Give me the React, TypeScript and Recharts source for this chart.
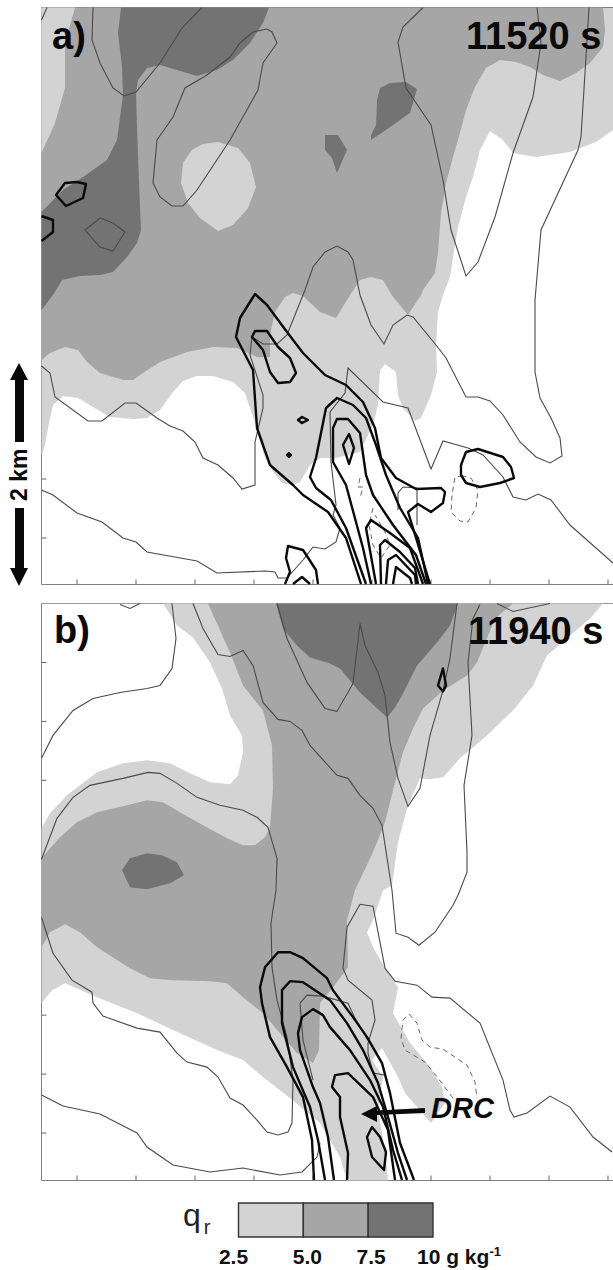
// Two-panel rainwater (qr) contour figure.
// Positions in the lists are plot units: x along the section, y down the section.
import React from 'react';
import { ScatterChart, Scatter, XAxis, YAxis, BarChart, Bar } from 'recharts';

type Pair = number[];

const xTicks = [77, 136, 195, 254, 313, 372, 431, 490, 549, 608];
const yTicksA = [67, 125.5, 184, 243, 302, 361, 420, 479, 538];
const yTicksB = [662, 721, 780, 839, 897, 957, 1015, 1074, 1133];

const LIGHT = '#d3d3d3';
const MID = '#a6a6a6';
const DARK = '#737373';

// ---- panel a, shading
const lightA: Pair[] = [[41.5,7.5],[613,7.5],[613,130],[596,142],[570,152],[536,157],[513,153],[503,140],[490,131],[480,150],[473,177],[466,197],[458,227],[453,257],[450,277],[443,295],[438,312],[436,345],[437,372],[431,395],[421,418],[415,421],[403,408],[398,395],[396,372],[385,364],[380,370],[378,405],[373,425],[360,452],[336,458],[320,458],[310,465],[300,482],[293,485],[282,483],[273,472],[263,452],[257,428],[250,408],[245,393],[233,382],[213,376],[197,376],[183,381],[173,392],[160,410],[147,418],[133,419],[110,417],[93,407],[78,398],[63,396],[53,405],[48,428],[45,445],[41.5,455]];
const midA: Pair[] = [[41.5,7.5],[603,7.5],[605,30],[603,47],[590,63],[576,73],[560,81],[543,75],[530,67],[516,62],[500,60],[486,68],[475,87],[466,110],[460,133],[453,157],[446,183],[441,213],[438,253],[435,273],[423,290],[421,295],[408,315],[400,305],[393,297],[383,280],[371,277],[360,280],[350,295],[336,318],[320,312],[303,296],[293,293],[285,297],[275,312],[270,335],[270,357],[257,357],[237,348],[213,347],[187,352],[160,362],[143,373],[133,380],[123,380],[100,373],[87,362],[78,350],[65,347],[50,353],[41.5,360]];
const lightCornerA: Pair[] = [[41.5,7.5],[75,7.5],[65,43],[65,88],[55,123],[41.5,153]];
const lightHoleA: Pair[] = [[218,142],[203,144],[192,150],[183,163],[181,183],[188,203],[200,218],[218,231],[233,225],[248,208],[256,187],[250,163],[238,148]];
const darkTopA: Pair[] = [[121,7.5],[118,33],[122,67],[123,95],[117,140],[107,160],[83,177],[63,190],[41.5,212],[41.5,310],[53,295],[62,280],[80,276],[100,275],[113,272],[127,257],[137,243],[141,230],[139,183],[137,127],[136,93],[138,80],[147,68],[160,65],[177,70],[197,76],[217,70],[233,60],[250,43],[263,23],[269,7.5]];
const darkBlobA: Pair[] = [[380,88],[390,83],[406,82],[417,89],[410,113],[400,120],[383,132],[371,140],[371,135],[376,125],[377,100]];
const darkSmallA: Pair[] = [[325,135],[338,135],[347,150],[337,173],[332,158],[325,150]];

// ---- panel a, thin contours
const thinA1: Pair[] = [[93,7.5],[92,40],[100,63],[113,88],[124,96],[136,92],[160,63],[182,28],[202,7.5]];
const thinA2: Pair[] = [[41.5,20],[47,7.5]];
const thinA3: Pair[] = [[423,7.5],[403,27],[398,42],[406,88],[431,125],[443,180],[451,230],[466,276],[478,262],[495,217],[513,153],[533,97],[541,43],[537,7.5]];
const thinA4: Pair[] = [[589,7.5],[586,57],[581,137],[578,150],[541,230],[535,300],[535,372],[540,398],[551,418],[560,438],[562,456],[550,463],[536,457],[520,442],[503,415],[490,401],[478,397],[466,397],[446,358],[436,345],[413,317],[407,315],[393,325],[384,344],[371,325],[360,295],[353,260],[348,252],[337,246],[325,252],[313,267],[305,290],[287,335],[277,344],[263,344],[252,337],[250,355],[263,395],[263,408],[255,442],[255,485],[242,489],[233,478],[218,465],[203,458],[195,442],[183,431],[170,426],[157,418],[136,403],[125,403],[102,421],[88,421],[55,397],[50,373],[41.5,366]];
const thinA5: Pair[] = [[41.5,490],[53,495],[77,513],[102,522],[123,538],[136,542],[147,552],[197,561],[217,573],[265,571],[275,572],[278,578],[287,578],[303,560],[313,547],[325,549],[336,542],[340,528],[333,515],[336,505],[331,462],[330,412],[345,393],[348,368],[383,402],[408,408],[431,469],[443,441],[468,448],[483,455],[503,477],[513,497],[526,500],[538,494],[551,500],[570,525],[613,563]];
const thinA6: Pair[] = [[398,510],[398,493],[403,487],[417,488],[417,525]];
const thinLoopA1: Pair[] = [[267,29],[253,32],[240,43],[230,57],[207,75],[185,88],[173,117],[157,140],[153,183],[160,197],[172,206],[183,206],[197,190],[230,140],[258,90],[263,63],[277,43],[272,32]];
const thinLoopA2: Pair[] = [[100,218],[85,230],[100,247],[113,251],[125,232],[113,223]];

// ---- panel a, thick contours
const thickA1: Pair[] = [[361,584],[346,538],[328,512],[303,495],[293,485],[270,465],[257,428],[253,370],[236,337],[240,318],[255,294],[267,305],[287,332],[303,353],[325,375],[346,385],[363,402],[375,428],[381,458],[396,478],[416,489],[441,488],[445,492],[443,503],[431,512],[418,504],[408,512],[413,528],[430,584]];
const thickA2: Pair[] = [[366,584],[346,528],[331,500],[316,488],[310,477],[316,458],[326,408],[337,398],[353,405],[366,418],[376,445],[386,475],[400,508],[418,538],[428,584]];
const thickA3: Pair[] = [[371,584],[363,548],[346,485],[333,462],[333,428],[337,419],[348,419],[360,433],[366,475],[373,495],[393,525],[416,555],[426,584]];
const thickA4: Pair[] = [[376,584],[366,528],[371,520],[390,533],[410,548],[423,584]];
const thickA5: Pair[] = [[381,584],[380,545],[385,540],[400,552],[415,568],[418,584]];
const thickA6: Pair[] = [[386,584],[388,560],[396,555],[415,575],[416,584]];
const thickA7: Pair[] = [[393,584],[396,567],[410,578],[412,584]];
const thickA8: Pair[] = [[318,584],[316,570],[303,550],[288,546],[286,558],[290,572],[285,584]];
const thickA9: Pair[] = [[293,584],[302,577],[310,584]];
const thickA10: Pair[] = [[41.5,216],[53,220],[53,232],[41.5,241]];
const thickLoopA1: Pair[] = [[65,183],[56,195],[66,206],[83,198],[86,184],[77,182]];
const thickLoopA2: Pair[] = [[252,337],[255,331],[267,331],[278,347],[290,358],[296,373],[290,382],[278,383],[270,372],[263,350]];
const thickLoopA3: Pair[] = [[349,434],[343,445],[349,464],[354,448]];
const thickLoopA4: Pair[] = [[298,420],[302,417],[308,420],[302,423]];
const thickLoopA5: Pair[] = [[287,455],[289,453],[291,455],[289,457]];
const thickLoopA6: Pair[] = [[466,452],[478,449],[503,457],[511,467],[514,478],[500,483],[480,487],[466,483],[461,475],[461,465]];

// ---- panel a, dashed contours
const dashLoopA: Pair[] = [[463,476],[455,477],[452,495],[451,512],[460,521],[468,522],[476,508],[478,490],[471,478]];
const dashA1: Pair[] = [[360,478],[358,487],[363,487],[360,498]];
const dashA2: Pair[] = [[373,508],[369,525],[373,545],[381,558],[390,545],[385,532],[375,515]];

// ---- panel b, shading
const lightB: Pair[] = [[163,603],[603,603],[590,618],[547,655],[533,685],[513,710],[487,735],[460,758],[443,777],[430,779],[420,778],[407,808],[398,842],[392,885],[383,890],[373,920],[367,932],[373,947],[385,968],[398,987],[393,1013],[410,1043],[430,1067],[442,1087],[445,1103],[431,1123],[405,1093],[398,1077],[382,1048],[372,1060],[383,1077],[378,1110],[385,1150],[388,1180.5],[347,1180.5],[340,1157],[320,1123],[290,1098],[263,1077],[243,1060],[217,1050],[180,1033],[137,1013],[97,997],[65,983],[52,990],[41.5,1003],[41.5,828],[50,813],[67,795],[97,772],[123,763],[147,760],[170,763],[190,773],[210,782],[230,784],[238,775],[243,752],[242,735],[230,715],[222,688],[210,662],[193,637],[177,625]];
const midB: Pair[] = [[208,603],[513,603],[495,618],[477,662],[467,675],[443,690],[423,708],[413,728],[403,752],[395,782],[385,822],[373,852],[355,890],[347,920],[348,967],[333,987],[320,1003],[319,1050],[313,1063],[297,1053],[280,1033],[263,1013],[243,997],[227,983],[210,981],[173,980],[150,978],[130,968],[97,947],[80,932],[65,924],[50,932],[41.5,947],[41.5,858],[60,837],[77,822],[97,812],[127,805],[147,800],[163,802],[180,812],[203,825],[227,838],[243,845],[255,845],[265,837],[270,827],[273,788],[272,745],[263,710],[243,685],[230,652]];
const darkTopB: Pair[] = [[276,603],[283,628],[297,645],[310,657],[330,663],[340,668],[360,692],[387,717],[395,707],[402,695],[417,665],[437,642],[450,625],[458,603]];
const darkBlobB: Pair[] = [[147,853],[130,858],[122,870],[130,887],[147,889],[170,883],[184,875],[177,862],[162,855]];

// ---- panel b, thin contours
const thinB1: Pair[] = [[172,603],[176,638],[172,668],[160,685],[147,688],[120,692],[93,698],[73,710],[53,735],[41.5,758]];
const thinB2: Pair[] = [[41.5,859],[57,818],[73,797],[90,785],[123,778],[148,772],[160,773],[177,783],[197,797],[220,805],[243,810],[257,817],[268,827],[277,858],[276,890],[271,923],[272,967],[277,1000],[287,1037],[293,1080],[292,1123],[288,1132],[278,1135],[267,1132],[257,1120],[243,1105],[230,1098],[218,1077],[207,1067],[187,1062],[177,1053],[160,1032],[137,1028],[103,1016],[93,1003],[92,992],[72,980],[53,953],[41.5,917]];
const thinB3: Pair[] = [[41.5,1095],[63,1106],[100,1114],[137,1133],[147,1147],[173,1165],[210,1172],[243,1168],[280,1175],[302,1172],[317,1157],[320,1143]];
const thinB4: Pair[] = [[193,603],[203,628],[218,654],[230,656],[243,650],[253,665],[263,702],[278,719],[290,721],[302,730],[310,745],[337,775],[348,778],[360,795],[373,808],[382,825],[392,890],[396,933],[408,937],[419,945],[435,932],[453,905],[458,895],[467,872],[467,852],[464,785],[472,735],[468,662],[473,618],[480,604]];
const thinB5: Pair[] = [[277,603],[287,638],[307,682],[325,708],[337,711],[353,683],[360,623],[365,645],[378,672],[385,695],[390,742],[398,778],[408,806],[420,788],[430,735],[443,690],[450,658],[457,603]];
const thinB6: Pair[] = [[497,603],[513,611],[550,603]];
const thinB7: Pair[] = [[120,604],[130,608],[140,603]];
const thinB8: Pair[] = [[385,1075],[373,1073],[368,1053],[368,1043],[375,1020],[372,1000],[348,980],[343,968],[347,927],[360,904],[373,906],[385,968],[395,981],[417,985],[432,997],[450,998],[480,1023],[503,1080],[510,1110],[514,1117],[527,1113],[550,1096],[570,1107],[593,1137],[612,1152]];
const thinB9: Pair[] = [[300,1003],[307,995],[323,996],[348,1003],[355,1018],[368,1040]];
const thinB10: Pair[] = [[300,1003],[303,1040],[313,1080]];

// ---- panel b, thick contours
const thickB1: Pair[] = [[314,1180],[312,1140],[303,1097],[287,1067],[270,1037],[262,1003],[260,987],[265,967],[278,952],[290,952],[303,958],[327,978],[333,990],[353,1017],[367,1037],[382,1063],[390,1093],[400,1143],[414,1180]];
const thickB2: Pair[] = [[325,1180],[318,1140],[310,1107],[293,1067],[282,1023],[282,990],[290,981],[303,982],[330,1000],[347,1023],[363,1050],[378,1083],[388,1117],[398,1153],[407,1180]];
const thickB3: Pair[] = [[334,1180],[328,1137],[320,1103],[313,1087],[300,1050],[298,1033],[302,1017],[313,1009],[323,1015],[330,1027],[350,1050],[370,1080],[383,1107],[393,1150],[402,1180]];
const thickB4: Pair[] = [[347,1180],[348,1153],[340,1117],[340,1097],[332,1087],[335,1075],[348,1073],[373,1097],[388,1130],[395,1180]];
const thickLoopB1: Pair[] = [[372,1127],[367,1137],[372,1157],[384,1170],[386,1152],[380,1137]];
const thickLoopB2: Pair[] = [[443,668],[438,685],[443,691],[446,685]];

// ---- panel b, dashed contour and DRC arrow
const dashB: Pair[] = [[453,1098],[438,1078],[425,1062],[405,1050],[401,1038],[403,1020],[409,1014],[417,1023],[422,1040],[430,1047],[443,1049],[467,1065],[475,1082],[477,1098]];
const drcArrow: Pair[] = [[425,1108],[377,1110.5],[377,1106],[361,1114],[377,1122],[377,1115],[425,1113]];

// ---- colour bar
const barBands = [{ name: 'qr', low: 2.5, middle: 2.5, high: 2.5 }];
const barTicks = [0, 2.5, 5, 7.5];
const barLabels = ['2.5', '5.0', '7.5', '10 g kg'];

const FONT = '"Liberation Sans", Arial, sans-serif';

const toPoints = (pairs: Pair[]) => pairs.map(([x, y]) => ({ x, y }));
const noShape = () => null;
const blankTick = () => <g />;

function fillArea(pairs: Pair[], color: string, key: string) {
  return (
    <Scatter
      key={key}
      data={toPoints(pairs)}
      shape={noShape}
      line={{ fill: color, stroke: 'none' }}
      lineJointType="linearClosed"
      isAnimationActive={false}
    />
  );
}

function contour(pairs: Pair[], kind: 'thin' | 'thick' | 'dash', closed: boolean, key: string) {
  const style =
    kind === 'thick'
      ? { stroke: '#0a0a0a', strokeWidth: 2.4, strokeLinejoin: 'round' as const }
      : kind === 'thin'
        ? { stroke: '#4a4a4a', strokeWidth: 1.1 }
        : { stroke: '#666666', strokeWidth: 1, strokeDasharray: '5 4' };
  return (
    <Scatter
      key={key}
      data={toPoints(pairs)}
      shape={noShape}
      line={style}
      lineJointType={closed ? 'linearClosed' : 'linear'}
      isAnimationActive={false}
    />
  );
}

// axes keep a 1px box because a zero-sized axis is not drawn
function Panel({ top, height, plotTop, plotBottom, yTicks, items, topColor }: any) {
  return (
    <div style={{ position: 'absolute', left: 0, top }}>
      <ScatterChart
        width={613}
        height={height}
        margin={{ left: 40.5, right: 0, top: plotTop - top - 1, bottom: height - (plotBottom - top) - 1 }}
      >
        {items}
        <XAxis
          xAxisId={0}
          type="number"
          dataKey="x"
          domain={[41.5, 613]}
          ticks={xTicks}
          tick={blankTick}
          tickSize={-5}
          height={1}
          interval={0}
          axisLine={{ stroke: '#808080' }}
          tickLine={{ stroke: '#666666' }}
        />
        <XAxis
          xAxisId="top"
          orientation="top"
          type="number"
          domain={[41.5, 613]}
          ticks={xTicks}
          tick={blankTick}
          tickSize={-5}
          height={1}
          interval={0}
          axisLine={{ stroke: topColor }}
          tickLine={{ stroke: '#666666' }}
        />
        <YAxis
          type="number"
          dataKey="y"
          reversed
          domain={[plotTop, plotBottom]}
          ticks={yTicks}
          tick={blankTick}
          tickSize={-5}
          width={1}
          interval={0}
          axisLine={{ stroke: '#808080' }}
          tickLine={{ stroke: '#666666' }}
        />
      </ScatterChart>
    </div>
  );
}

function ColourTick({ x, payload, index }: any) {
  const shift = [-5, 4, 3, -16][index] ?? 0;
  const last = index === barLabels.length - 1;
  return (
    <text
      x={x + shift}
      y={69}
      textAnchor={last ? 'start' : 'middle'}
      fontFamily={FONT}
      fontWeight={700}
      fontSize={21}
      fill="#111"
    >
      {barLabels[barTicks.indexOf(payload.value)]}
      {last && (
        <tspan fontSize={13} dy={-8}>
          -1
        </tspan>
      )}
    </text>
  );
}

function Label({ x, base, size, italic, children }: any) {
  return (
    <div
      style={{
        position: 'absolute',
        left: x,
        top: base - size,
        height: size,
        lineHeight: `${size}px`,
        fontFamily: FONT,
        fontSize: size,
        fontWeight: 700,
        fontStyle: italic ? 'italic' : 'normal',
        color: '#0a0a0a',
        whiteSpace: 'nowrap',
      }}
    >
      {children}
    </div>
  );
}

const panelAItems = [
  fillArea(lightA, LIGHT, 'la'),
  fillArea(midA, MID, 'ma'),
  fillArea(lightCornerA, LIGHT, 'lca'),
  fillArea(lightHoleA, LIGHT, 'lha'),
  fillArea(darkTopA, DARK, 'dta'),
  fillArea(darkBlobA, DARK, 'dba'),
  fillArea(darkSmallA, DARK, 'dsa'),
  ...[thinA1, thinA2, thinA3, thinA4, thinA5, thinA6].map((c, i) => contour(c, 'thin', false, `ta${i}`)),
  ...[thinLoopA1, thinLoopA2].map((c, i) => contour(c, 'thin', true, `tla${i}`)),
  contour(dashLoopA, 'dash', true, 'dla'),
  contour(dashA1, 'dash', false, 'da1'),
  contour(dashA2, 'dash', false, 'da2'),
  ...[thickA1, thickA2, thickA3, thickA4, thickA5, thickA6, thickA7, thickA8, thickA9, thickA10].map((c, i) =>
    contour(c, 'thick', false, `ka${i}`),
  ),
  ...[thickLoopA1, thickLoopA2, thickLoopA3, thickLoopA4, thickLoopA5, thickLoopA6].map((c, i) =>
    contour(c, 'thick', true, `kla${i}`),
  ),
];

const panelBItems = [
  fillArea(lightB, LIGHT, 'lb'),
  fillArea(midB, MID, 'mb'),
  fillArea(darkTopB, DARK, 'dtb'),
  fillArea(darkBlobB, DARK, 'dbb'),
  ...[thinB1, thinB2, thinB3, thinB4, thinB5, thinB6, thinB7, thinB8, thinB9, thinB10].map((c, i) =>
    contour(c, 'thin', false, `tb${i}`),
  ),
  contour(dashB, 'dash', false, 'db'),
  ...[thickB1, thickB2, thickB3, thickB4].map((c, i) => contour(c, 'thick', false, `kb${i}`)),
  ...[thickLoopB1, thickLoopB2].map((c, i) => contour(c, 'thick', true, `klb${i}`)),
  fillArea(drcArrow, '#0a0a0a', 'drc'),
];

export default function App() {
  return (
    <div style={{ position: 'absolute', left: 0, top: 0, width: 613, height: 1270, background: '#fff', overflow: 'hidden' }}>
      <Panel top={0} height={595} plotTop={7.5} plotBottom={584.5} yTicks={yTicksA} items={panelAItems} topColor="#222222" />
      <Panel top={595} height={595} plotTop={603.5} plotBottom={1180.5} yTicks={yTicksB} items={panelBItems} topColor="#999999" />

      <Label x={52} base={55} size={38}>a)</Label>
      <Label x={466} base={55} size={38}>11520 s</Label>
      <Label x={54} base={649} size={38}>b)</Label>
      <Label x={468} base={650} size={38}>11940 s</Label>
      <Label x={431} base={1123} size={29} italic>DRC</Label>

      {/* 2 km scale arrow */}
      <svg width={41} height={600} style={{ position: 'absolute', left: 0, top: 0 }}>
        <polygon points="19,363 28,380 24,380 24,442 15,442 15,380 10,380" fill="#0a0a0a" />
        <polygon points="19,586 28,568 24,568 24,508 15,508 15,568 10,568" fill="#0a0a0a" />
        <text
          transform="translate(27,501) rotate(-90)"
          fontFamily={FONT}
          fontWeight={700}
          fontSize={23}
          fill="#0a0a0a"
        >
          2 km
        </text>
      </svg>

      {/* colour bar */}
      <div style={{ position: 'absolute', left: 183, top: 1196, fontFamily: FONT, fontSize: 32, lineHeight: '38px', color: '#222' }}>
        q<span style={{ fontSize: 20, position: 'relative', top: 8, left: 3 }}>r</span>
      </div>
      <div style={{ position: 'absolute', left: 0, top: 1195 }}>
        <BarChart
          width={613}
          height={75}
          layout="vertical"
          data={barBands}
          barCategoryGap={0}
          margin={{ left: 238.5, right: 180, top: 8, bottom: 0 }}
        >
          <XAxis
            type="number"
            domain={[0, 7.5]}
            ticks={barTicks}
            interval={0}
            height={33}
            axisLine={false}
            tickLine={false}
            tick={ColourTick}
          />
          <YAxis type="category" dataKey="name" hide />
          <Bar dataKey="low" stackId="q" fill={LIGHT} stroke="#333" strokeWidth={1.4} isAnimationActive={false} />
          <Bar dataKey="middle" stackId="q" fill={MID} stroke="#333" strokeWidth={1.4} isAnimationActive={false} />
          <Bar dataKey="high" stackId="q" fill={DARK} stroke="#333" strokeWidth={1.4} isAnimationActive={false} />
        </BarChart>
      </div>
    </div>
  );
}
